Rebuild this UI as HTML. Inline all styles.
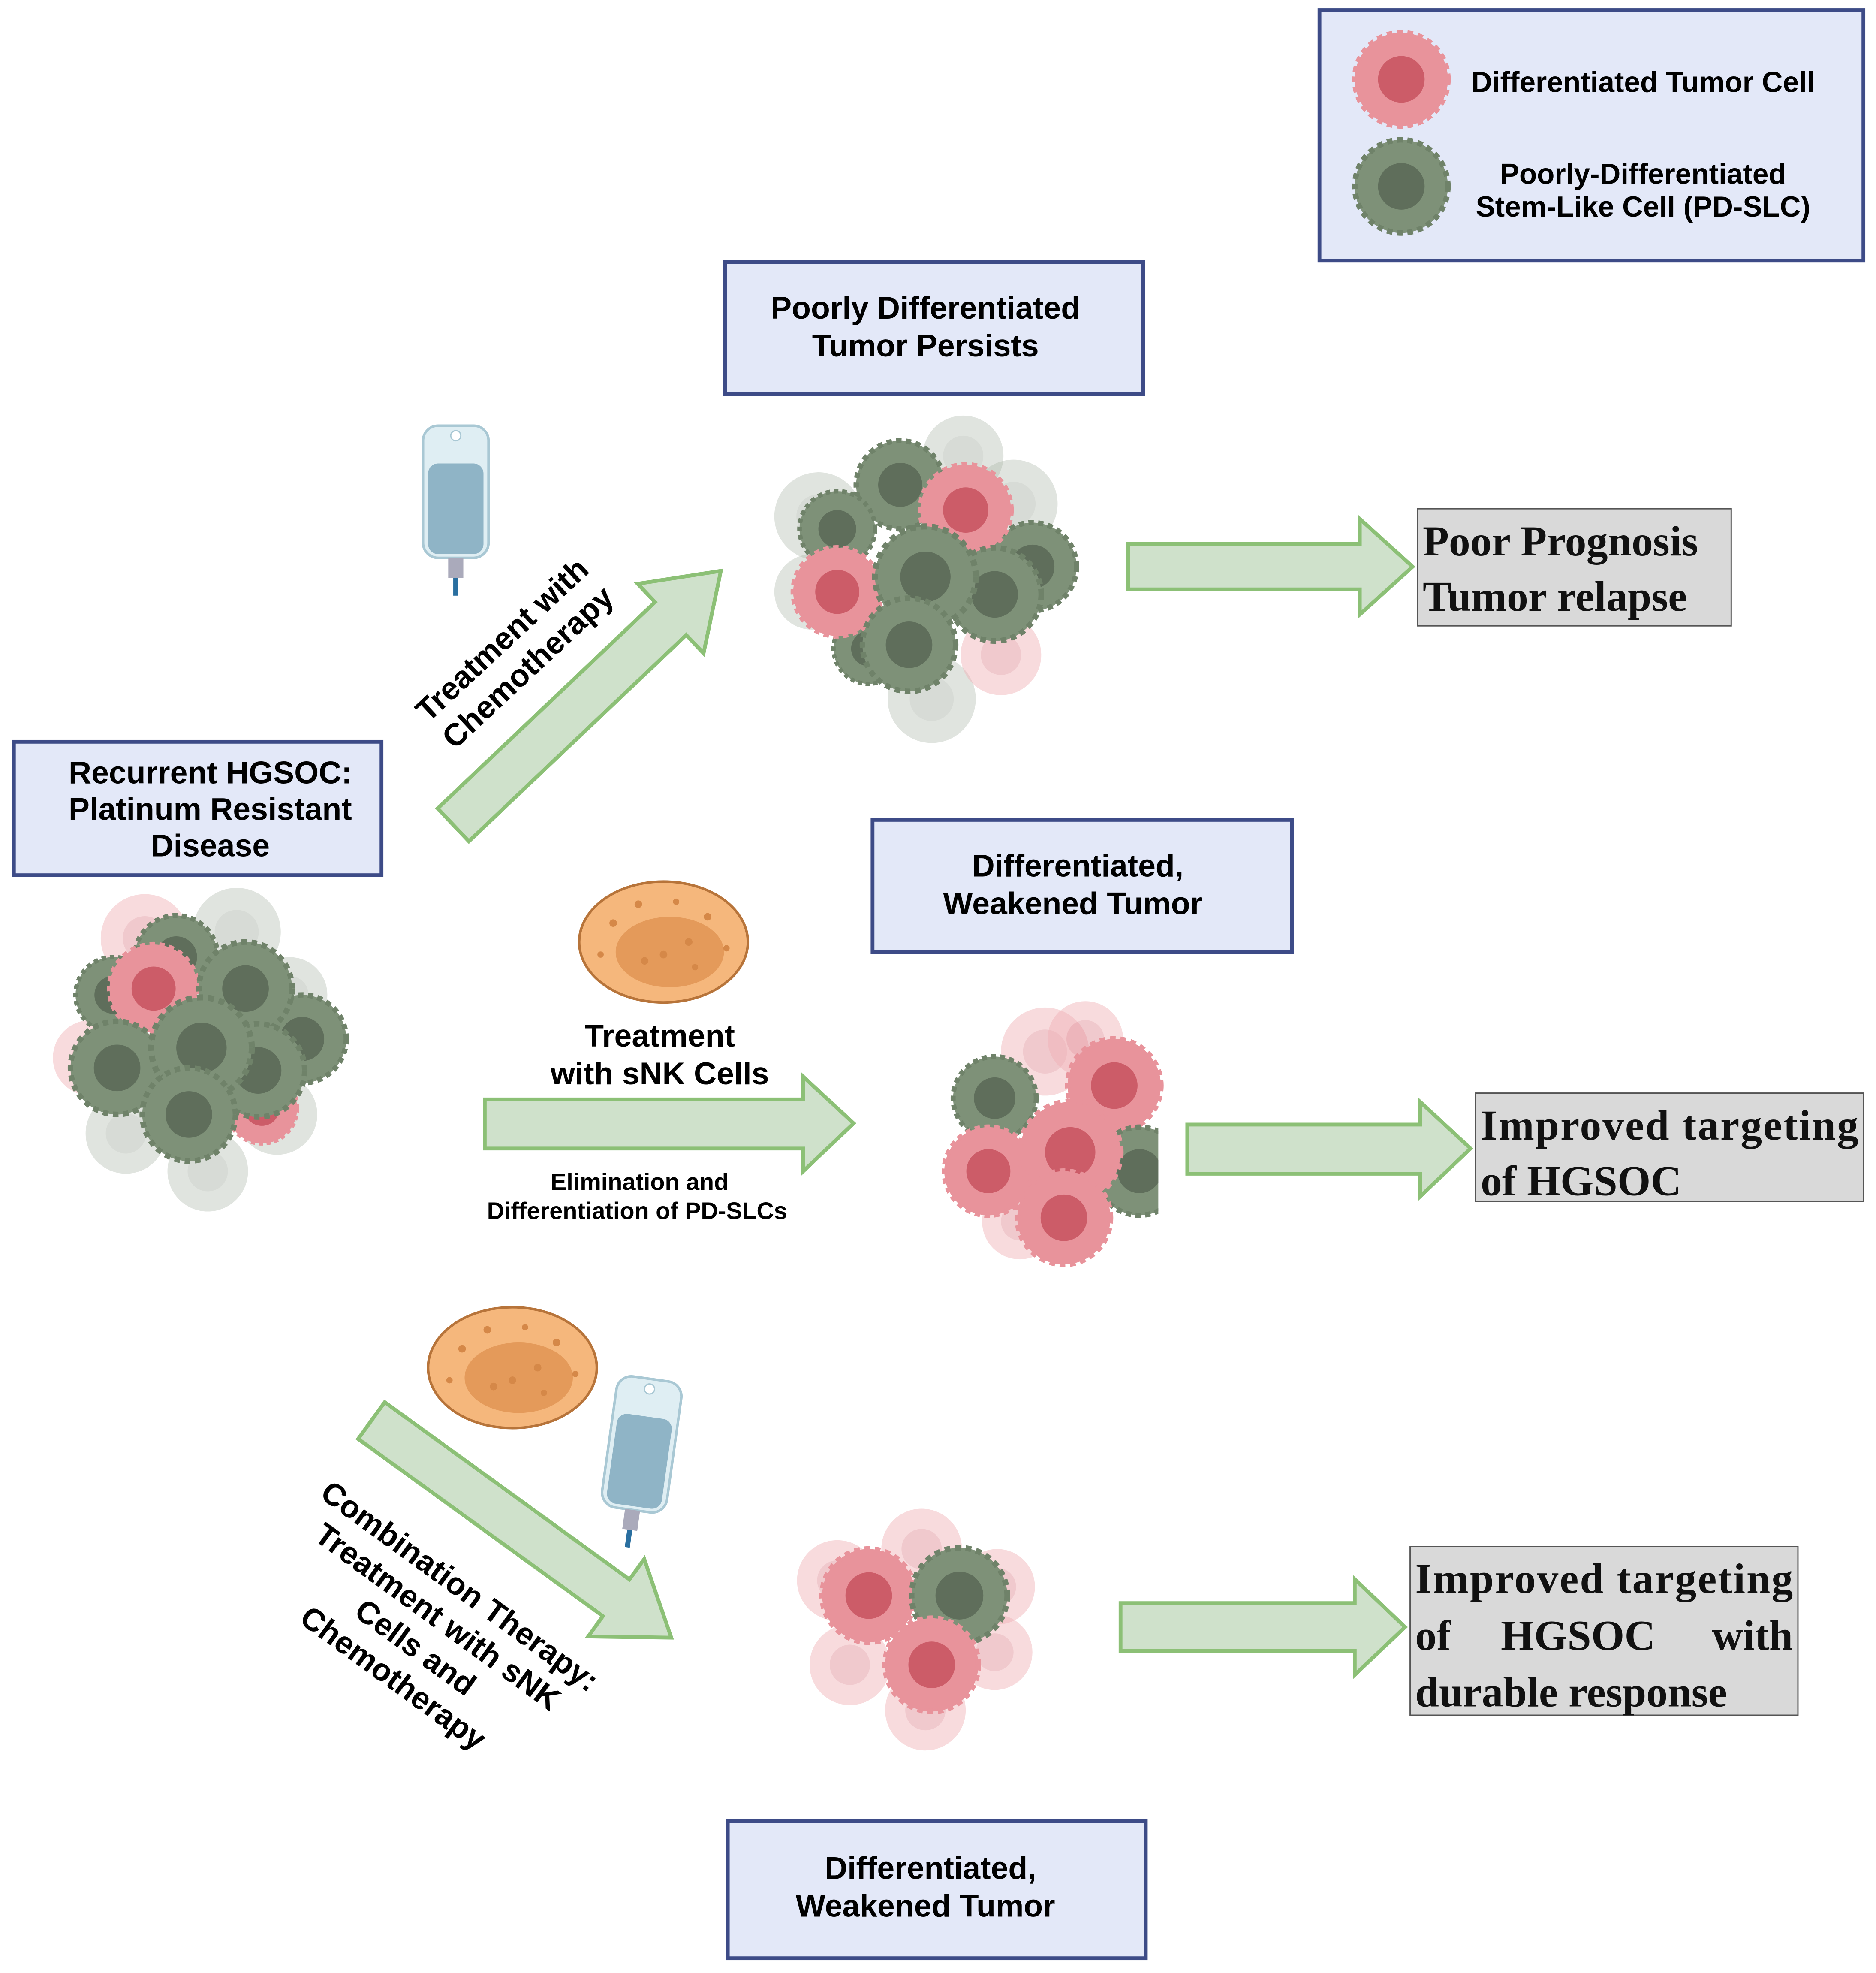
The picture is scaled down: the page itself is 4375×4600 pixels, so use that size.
<!DOCTYPE html>
<html><head><meta charset="utf-8"><style>
html,body{margin:0;padding:0;background:#fff;}
svg{display:block;}
.b{font-family:"Liberation Sans",sans-serif;font-weight:bold;fill:#000;}
.s{font-family:"Liberation Serif",serif;font-weight:bold;fill:#111;}
</style></head><body>
<svg width="4375" height="4600" viewBox="0 0 1490 1566.7" preserveAspectRatio="none" xmlns="http://www.w3.org/2000/svg">
<defs>
<g id="pk"><circle r="1" fill="#e8939b" stroke="#e8939b" stroke-width="0.12" stroke-dasharray="0.12 0.1"/><circle r="0.5" fill="#cc5c68"/></g>
<g id="gr"><circle r="1" fill="#7e9178" stroke="#6f8269" stroke-width="0.12" stroke-dasharray="0.12 0.1"/><circle r="0.5" fill="#5f6e5b"/></g>
<g id="fg" opacity="0.35"><circle r="1" fill="#a9b5a5"/><circle r="0.5" fill="#8f9a8b"/></g>
<g id="fp" opacity="0.45"><circle r="1" fill="#f0b0b6"/><circle r="0.5" fill="#e08892"/></g>
<g id="iv"><rect x="-26" y="0" width="52" height="105" rx="12" fill="#dfeef3" stroke="#a9c8d4" stroke-width="2"/><rect x="-22" y="30" width="44" height="72" rx="8" fill="#8fb4c6"/><circle cx="0" cy="8" r="4" fill="#fff" stroke="#a9c8d4"/><rect x="-6" y="105" width="12" height="16" fill="#aab"/><rect x="-2" y="121" width="4" height="14" fill="#2a6fa0"/></g>
<g id="nk"><ellipse rx="67" ry="48" fill="#f5b77c" stroke="#b7743a" stroke-width="2"/><ellipse cx="5" cy="8" rx="43" ry="28" fill="#e49a5a"/><g fill="#d58848"><circle cx="-40" cy="-15" r="3"/><circle cx="-20" cy="-30" r="3"/><circle cx="10" cy="-32" r="2.5"/><circle cx="35" cy="-20" r="3"/><circle cx="-50" cy="10" r="2.5"/><circle cx="0" cy="10" r="3"/><circle cx="20" cy="0" r="3"/><circle cx="-15" cy="15" r="3"/><circle cx="25" cy="20" r="2.5"/><circle cx="50" cy="5" r="2.5"/></g></g>
</defs>
<rect width="1490" height="1566.7" fill="#fff"/>

<g fill="#e3e8f8" stroke="#3d4b87" stroke-width="3">
<rect x="1048" y="8" width="432" height="199"/>
<rect x="576" y="208" width="332" height="105"/>
<rect x="11" y="589" width="292" height="106"/>
<rect x="693" y="651" width="333" height="105"/>
<rect x="578" y="1446" width="332" height="109"/>
</g>
<g fill="#d9d9d9" stroke="#555" stroke-width="1">
<rect x="1126" y="404" width="249" height="93"/>
<rect x="1172" y="868" width="308" height="86"/>
<rect x="1120" y="1228" width="308" height="134"/>
</g>

<g class="b" font-size="23" text-anchor="middle">
<text x="1305" y="73">Differentiated Tumor Cell</text>
<text x="1305" y="146">Poorly-Differentiated</text>
<text x="1305" y="172">Stem-Like Cell (PD-SLC)</text>
</g>
<g class="b" font-size="25" text-anchor="middle">
<text x="735" y="253">Poorly Differentiated</text>
<text x="735" y="283">Tumor Persists</text>
<text x="167" y="622">Recurrent HGSOC:</text>
<text x="167" y="651">Platinum Resistant</text>
<text x="167" y="680">Disease</text>
<text x="856" y="696">Differentiated,</text>
<text x="852" y="726">Weakened Tumor</text>
<text x="739" y="1492">Differentiated,</text>
<text x="735" y="1522">Weakened Tumor</text>
<text x="524" y="831">Treatment</text>
<text x="524" y="861">with sNK Cells</text>
</g>
<g class="b" font-size="19" text-anchor="middle">
<text x="508" y="945">Elimination and</text>
<text x="506" y="968">Differentiation of PD-SLCs</text>
</g>
<g class="b" font-size="25" text-anchor="middle" transform="translate(410,520) rotate(-43)">
<text x="0" y="-8">Treatment with</text>
<text x="0" y="22">Chemotherapy</text>
</g>
<g class="b" font-size="25" text-anchor="middle" transform="translate(365,1260) rotate(36)">
<text x="0" y="8">Combination Therapy:</text>
<text x="0" y="38">Treatment with sNK</text>
<text x="0" y="68">Cells and</text>
<text x="0" y="98">Chemotherapy</text>
</g>
<g class="s" font-size="34">
<text x="1130" y="441">Poor Prognosis</text>
<text x="1130" y="485">Tumor relapse</text>
<text x="1176" y="905" textLength="300" lengthAdjust="spacing">Improved targeting</text>
<text x="1176" y="949">of HGSOC</text>
<text x="1124" y="1265" textLength="300" lengthAdjust="spacing">Improved targeting</text>
<text x="1124" y="1310">of</text>
<text x="1192" y="1310">HGSOC</text>
<text x="1424" y="1310" text-anchor="end">with</text>
<text x="1124" y="1355">durable response</text>
</g>

<g fill="#cfe1cb" stroke="#8cc076" stroke-width="3" stroke-linejoin="miter">
<polygon points="896,432 1080,432 1080,412 1122,450 1080,488 1080,468 896,468"/>
<polygon points="943,893 1128,893 1128,875 1168,912 1128,950 1128,932 943,932"/>
<polygon points="890,1273 1076,1273 1076,1254 1116,1292 1076,1330 1076,1311 890,1311"/>
<polygon points="385,873 638,873 638,855 678,892 638,930 638,912 385,912"/>
<polygon transform="translate(360,655) rotate(-43.5)" points="0,-18 238,-18 238,-38 293,0 238,38 238,18 0,18"/>
<polygon transform="translate(295,1128) rotate(35.9)" points="0,-18 240,-18 240,-38 294,0 240,38 240,18 0,18"/>
</g>

<use href="#pk" transform="translate(1113,63) scale(37)"/>
<use href="#gr" transform="translate(1113,148) scale(37)"/>

<use href="#iv" transform="translate(362,338)"/>
<use href="#iv" transform="translate(517,1095) rotate(8)"/>
<use href="#nk" transform="translate(527,748)"/>
<use href="#nk" transform="translate(407,1086)"/>

<use href="#fg" transform="translate(650,410) scale(35)"/>
<use href="#fg" transform="translate(765,362) scale(32)"/>
<use href="#fg" transform="translate(805,400) scale(35)"/>
<use href="#fg" transform="translate(740,555) scale(35)"/>
<use href="#fp" transform="translate(795,520) scale(32)"/>
<use href="#fg" transform="translate(645,470) scale(30)"/>
<use href="#gr" transform="translate(715,385) scale(35)"/>
<use href="#gr" transform="translate(665,420) scale(30)"/>
<use href="#gr" transform="translate(820,450) scale(35)"/>
<use href="#gr" transform="translate(690,515) scale(28)"/>
<use href="#pk" transform="translate(767,405) scale(36)"/>
<use href="#gr" transform="translate(790,472) scale(37)"/>
<use href="#pk" transform="translate(665,470) scale(35)"/>
<use href="#gr" transform="translate(735,458) scale(40)"/>
<use href="#gr" transform="translate(722,512) scale(37)"/>

<use href="#fp" transform="translate(115,745) scale(35)"/>
<use href="#fg" transform="translate(188,740) scale(35)"/>
<use href="#fg" transform="translate(230,790) scale(30)"/>
<use href="#fp" transform="translate(72,840) scale(30)"/>
<use href="#fg" transform="translate(100,900) scale(32)"/>
<use href="#fg" transform="translate(165,930) scale(32)"/>
<use href="#fg" transform="translate(220,885) scale(32)"/>
<use href="#gr" transform="translate(140,760) scale(33)"/>
<use href="#gr" transform="translate(90,790) scale(30)"/>
<use href="#gr" transform="translate(240,825) scale(35)"/>
<use href="#pk" transform="translate(122,785) scale(35)"/>
<use href="#gr" transform="translate(195,785) scale(37)"/>
<use href="#pk" transform="translate(208,880) scale(28)"/>
<use href="#gr" transform="translate(93,848) scale(37)"/>
<use href="#gr" transform="translate(205,850) scale(37)"/>
<use href="#gr" transform="translate(160,832) scale(40)"/>
<use href="#gr" transform="translate(150,885) scale(37)"/>

<use href="#fp" transform="translate(830,835) scale(35)"/>
<use href="#fp" transform="translate(862,825) scale(30)"/>
<use href="#fp" transform="translate(810,970) scale(30)"/>
<use href="#gr" transform="translate(790,872) scale(33)"/>
<use href="#pk" transform="translate(885,862) scale(37)"/>
<svg x="700" y="780" width="220" height="260" viewBox="700 780 220 260" overflow="hidden"><use href="#gr" transform="translate(905,930) scale(35)"/></svg>
<use href="#pk" transform="translate(785,930) scale(35)"/>
<use href="#pk" transform="translate(850,915) scale(40)"/>
<use href="#pk" transform="translate(845,967) scale(37)"/>

<use href="#fp" transform="translate(665,1255) scale(32)"/>
<use href="#fp" transform="translate(732,1230) scale(32)"/>
<use href="#fp" transform="translate(792,1260) scale(30)"/>
<use href="#fp" transform="translate(675,1322) scale(32)"/>
<use href="#fp" transform="translate(735,1358) scale(32)"/>
<use href="#fp" transform="translate(790,1312) scale(30)"/>
<use href="#pk" transform="translate(690,1267) scale(37)"/>
<use href="#gr" transform="translate(762,1267) scale(38)"/>
<use href="#pk" transform="translate(740,1322) scale(37)"/>
</svg>
</body></html>
